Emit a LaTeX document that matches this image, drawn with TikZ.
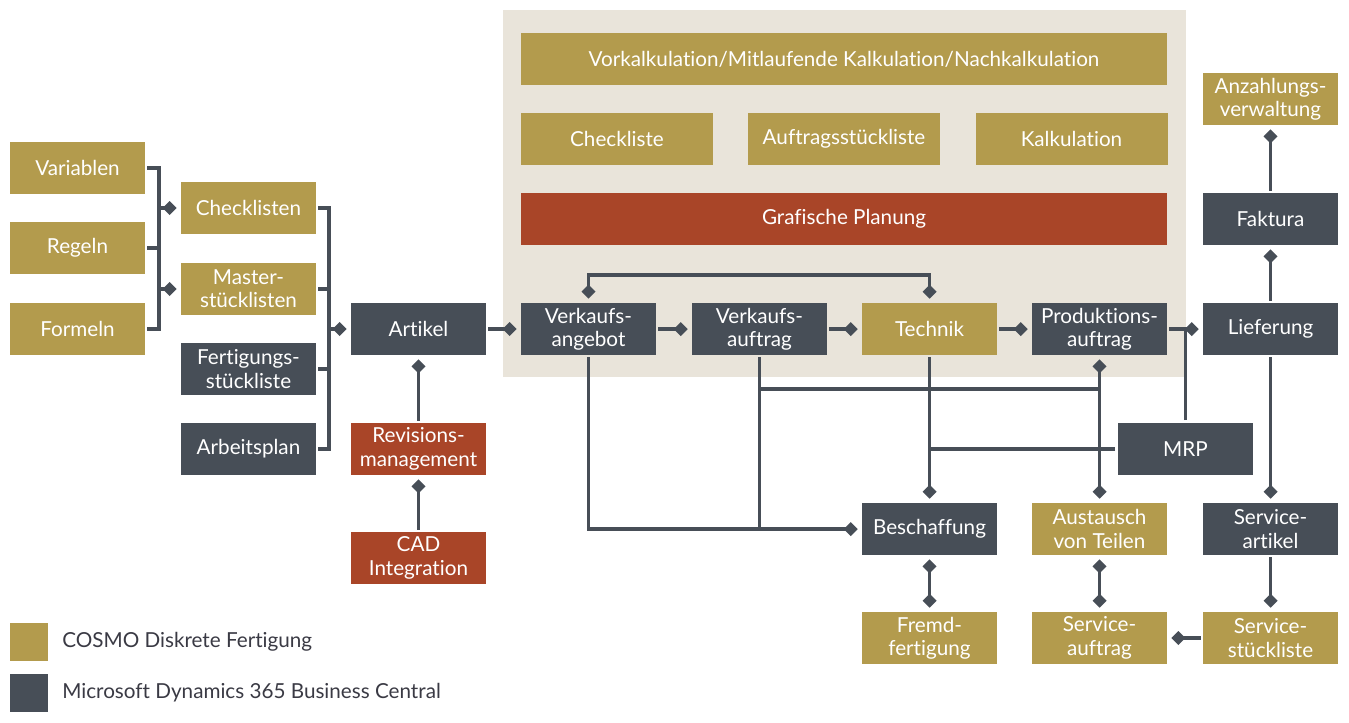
\documentclass[tikz,border=0pt]{standalone}
\usepackage{fontspec}
\setmainfont{Lato}[Ligatures=NoCommon]
\usetikzlibrary{arrows.meta}
\definecolor{gold}{HTML}{B39B4D}
\definecolor{slate}{HTML}{474E57}
\definecolor{rust}{HTML}{A94528}
\definecolor{beige}{HTML}{E9E4DA}
\definecolor{legtext}{HTML}{3A3A44}
\begin{document}
\begin{tikzpicture}[x=0.75pt,y=-0.75pt,
  box/.style={minimum width=101.25pt, minimum height=39pt, inner sep=0pt, text=white, align=center, font=\fontsize{15.5}{17.5}\selectfont},
  gbox/.style={box, fill=gold},
  dbox/.style={box, fill=slate},
  rbox/.style={box, fill=rust},
  ln/.style={draw=slate, line width=2.5pt, line join=miter, shorten <=1.5pt},
  lnb/.style={draw=slate, line width=2.5pt, line join=miter},
  conn/.style={ln, -{Diamond[length=10.5pt,width=10.5pt]}, shorten >=3pt},
  dd/.style={lnb, {Diamond[length=10.5pt,width=10.5pt]}-{Diamond[length=10.5pt,width=10.5pt]}, shorten >=3pt, shorten <=3pt},
  legtxt/.style={anchor=west, inner sep=0pt, text=legtext, font=\fontsize{15.5}{17.5}\selectfont}
]
\useasboundingbox (0,0) rectangle (1349,722);
\fill[beige] (503,10) rectangle (1186,377);

% top area
\node[gbox, minimum width=484.5pt] (vor) at (844,59) {Vorkalkulation/Mitlaufende Kalkulation/Nachkalkulation};
\node[gbox, minimum width=144pt] (chl) at (617,139) {Checkliste};
\node[gbox, minimum width=144pt] (aufst) at (844,139) {Auftragsstückliste};
\node[gbox, minimum width=144pt] (kalk) at (1071.5,139) {Kalkulation};
\node[rbox, minimum width=484.5pt] (graf) at (844,219) {Grafische Planung};

% left
\node[gbox] (var) at (77.5,168) {Variablen};
\node[gbox] (reg) at (77.5,248) {Regeln};
\node[gbox] (for) at (77.5,329) {Formeln};
\node[gbox] (chk) at (248.5,208) {Checklisten};
\node[gbox] (mas) at (248.5,289) {Master-\\stücklisten};
\node[dbox] (fer) at (248.5,369) {Fertigungs-\\stückliste};
\node[dbox] (arb) at (248.5,449) {Arbeitsplan};
\node[dbox] (art) at (418.5,329) {Artikel};
\node[rbox] (rev) at (418.5,449) {Revisions-\\management};
\node[rbox] (cad) at (418.5,558) {CAD\\Integration};

% main row
\node[dbox] (va) at (588.5,329) {Verkaufs-\\angebot};
\node[dbox] (vau) at (759.5,329) {Verkaufs-\\auftrag};
\node[gbox] (tech) at (929.5,329) {Technik};
\node[dbox] (pa) at (1099.5,329) {Produktions-\\auftrag};
\node[dbox] (lief) at (1270.5,329) {Lieferung};

% right
\node[gbox] (anz) at (1270.5,99) {Anzahlungs-\\verwaltung};
\node[dbox] (fak) at (1270.5,219) {Faktura};
\node[dbox] (mrp) at (1185.5,449) {MRP};

% bottom
\node[dbox] (besch) at (929.5,529) {Beschaffung};
\node[gbox] (aus) at (1099.5,529) {Austausch\\von Teilen};
\node[dbox] (sart) at (1270.5,529) {Service-\\artikel};
\node[gbox] (frem) at (929.5,638) {Fremd-\\fertigung};
\node[gbox] (sauf) at (1099.5,638) {Service-\\auftrag};
\node[gbox] (ssl) at (1270.5,638) {Service-\\stückliste};

% legend
\fill[gold] (10,623) rectangle (48,661);
\fill[slate] (10,674) rectangle (48,712);
\node[legtxt] (leg1) at (62,642) {COSMO Diskrete Fertigung};
\node[legtxt] (leg2) at (62,693) {Microsoft Dynamics 365 Business Central};

% coordinates
\coordinate (brA) at (159,248);
\coordinate (brB) at (329,329);
\coordinate (ytop) at (0,275);
\coordinate (ymid) at (0,389);

% bracket 1
\draw[ln] (var.east) -| (brA) |- ([xshift=1.5pt]for.east);
\draw[ln] (reg.east) -- (brA);
\draw[conn, shorten <=0pt] (brA |- chk.west) -- (chk.west);
\draw[conn, shorten <=0pt] (brA |- mas.west) -- (mas.west);

% bracket 2
\draw[ln] (chk.east) -| (brB) |- ([xshift=1.5pt]arb.east);
\draw[ln] (mas.east) -- (mas.east -| brB);
\draw[ln] (fer.east) -- (fer.east -| brB);
\draw[conn, shorten <=0pt] (brB) -- (art.west);

% main flow
\draw[conn] (art.east) -- (va.west);
\draw[conn] (va.east) -- (vau.west);
\draw[conn] (vau.east) -- (tech.west);
\draw[conn] (tech.east) -- (pa.west);
\draw[conn] (pa.east) -- (lief.west);

% top loop
\draw[dd] (va.north) -- (va.north |- ytop) -| (tech.north);

% lower network
\draw[conn] (va.south) |- (besch.west);
\draw[ln] (vau.south) -- (vau.south |- besch.west);
\draw[lnb] (vau.south |- ymid) -- (pa.south |- ymid);
\draw[dd] (pa.south) -- (aus.north);
\draw[conn] (tech.south) -- (besch.north);
\draw[ln, shorten <=2pt] (mrp.west) -- (mrp.west -| tech.south);
\draw[ln, shorten <=2pt] (mrp.north) -- (mrp.north |- lief.west);

% right column
\draw[conn] (lief.north) -- (fak.south);
\draw[conn] (fak.north) -- (anz.south);
\draw[conn] (lief.south) -- (sart.north);
\draw[conn] (sart.south) -- (ssl.north);
\draw[conn] (ssl.west) -- (sauf.east);
\draw[dd] (aus.south) -- (sauf.north);
\draw[dd] (besch.south) -- (frem.north);

% revision
\draw[conn] (rev.north) -- (art.south);
\draw[conn] (cad.north) -- (rev.south);
\end{tikzpicture}
\end{document}
